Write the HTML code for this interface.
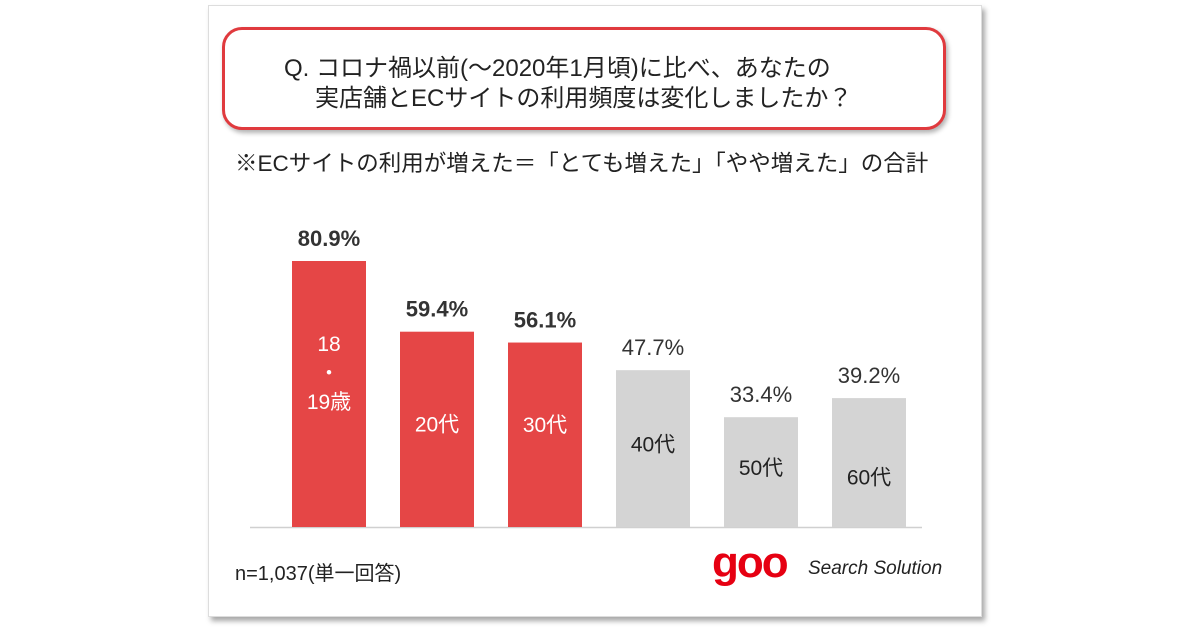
<!DOCTYPE html>
<html><head><meta charset="utf-8"><style>
body{margin:0;width:1200px;height:630px;background:#fff;overflow:hidden;font-family:"Liberation Sans","Noto Sans CJK JP",sans-serif;}
#card{position:absolute;left:208px;top:5px;width:772px;height:610px;background:#fff;border:1px solid #ddd;box-shadow:3px 4px 5px rgba(0,0,0,0.35);}
#qbox{position:absolute;left:222px;top:27px;width:718px;height:97px;border:3px solid #e03a3e;border-radius:20px;box-shadow:2px 3px 5px rgba(0,0,0,0.3);background:#fff;}
.t{position:absolute;color:#222;white-space:nowrap;}
</style></head><body>
<div id="card"></div>
<div id="qbox"></div>
<div class="t" style="left:284px;top:48px;font-size:24px;">Q. コロナ禍以前(～2020年1月頃)に比べ、あなたの</div>
<div class="t" style="left:315px;top:78px;font-size:24px;">実店舗とECサイトの利用頻度は変化しましたか？</div>
<div class="t" style="left:235px;top:146px;font-size:22.5px;">※ECサイトの利用が増えた＝「とても増えた」「やや増えた」の合計</div>
<svg id="chart" width="1200" height="630" style="position:absolute;left:0;top:0"></svg>
<div class="t" style="left:235px;top:557px;font-size:20px;">n=1,037(単一回答)</div>
<div class="t" style="left:712px;top:538px;font-size:44px;font-weight:bold;color:#e60012;letter-spacing:-2px;">goo</div>
<div class="t" style="left:808px;top:558px;font-size:19px;font-style:italic;color:#222;">Search Solution</div>
<script>
const categories=["18\n・\n19歳","20代","30代","40代","50代","60代"];
const values=[80.9,59.4,56.1,47.7,33.4,39.2];
const highlighted=[true,true,true,false,false,false];
const labelOffsets=[-6,-5,-10,-4,-4,15];
const svg=document.getElementById('chart');
const NS='http://www.w3.org/2000/svg';
const baseY=527,pxPer=3.288,x0=329,step=108,bw=74;
const y=v=>baseY-v*pxPer;
const xc=i=>x0+i*step;
const axis=document.createElementNS(NS,'line');
axis.setAttribute('x1',250);axis.setAttribute('x2',922);axis.setAttribute('y1',baseY+0.5);axis.setAttribute('y2',baseY+0.5);
axis.setAttribute('stroke','#d0d0d0');axis.setAttribute('stroke-width',1.5);


svg.appendChild(axis);
values.forEach((v,i)=>{
  const r=document.createElementNS(NS,'rect');
  r.setAttribute('x',xc(i)-bw/2);r.setAttribute('y',y(v));r.setAttribute('width',bw);r.setAttribute('height',baseY-y(v));
  r.setAttribute('fill',highlighted[i]?'#e54646':'#d4d4d4');
  
  
  svg.appendChild(r);
  const t=document.createElementNS(NS,'text');
  t.setAttribute('x',xc(i));t.setAttribute('y',y(v)-15);t.setAttribute('text-anchor','middle');
  t.setAttribute('font-size','22');t.setAttribute('fill','#333');
  if(highlighted[i])t.setAttribute('font-weight','bold');
  t.textContent=v.toFixed(1)+'%';
  
  
  svg.appendChild(t);
  const lines=categories[i].split('\n');
  const mid=(y(v)+baseY)/2+labelOffsets[i];
  const lh=lines.length>1?29:0;
  lines.forEach((ln,k)=>{
    const c=document.createElementNS(NS,'text');
    c.setAttribute('x',xc(i));c.setAttribute('y',mid-lh+k*lh-(lines.length>1?15:0)+7);
    c.setAttribute('text-anchor','middle');c.setAttribute('font-size','21');
    c.setAttribute('fill',highlighted[i]?'#fff':'#222');
    c.textContent=ln;
    
    
    svg.appendChild(c);
  });
});
</script>
</body></html>
